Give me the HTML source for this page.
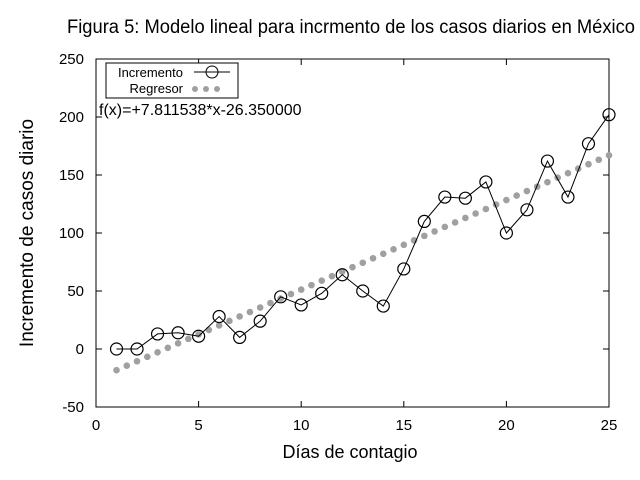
<!DOCTYPE html>
<html><head><meta charset="utf-8"><style>
html,body{margin:0;padding:0;background:#fff;}
svg{display:block;font-family:"Liberation Sans",Arial,sans-serif;}
</style></head><body>
<svg id="s" width="640" height="480" xmlns="http://www.w3.org/2000/svg">
<text x="351" y="33" font-size="19" text-anchor="middle" textLength="568" lengthAdjust="spacingAndGlyphs">Figura 5: Modelo lineal para incrmento de los casos diarios en México</text>
<rect x="96" y="59" width="513" height="348" fill="none" stroke="#000" stroke-width="1"/>
<g id="ticks" stroke="#000" stroke-width="1"></g>
<g id="labels" font-size="15"></g>
<text x="350" y="458" font-size="18" text-anchor="middle">Días de contagio</text>
<text transform="translate(33,233) rotate(-90)" font-size="19" text-anchor="middle">Incremento de casos diario</text>
<g id="reg" fill="#a0a0a0"></g>
<g id="inc"></g>
<rect x="106" y="63" width="132" height="35" fill="#fff" stroke="#000"/>
<text x="183" y="77" font-size="13" text-anchor="end">Incremento</text>
<line x1="194" y1="72" x2="230" y2="72" stroke="#000"/>
<circle cx="212" cy="72" r="6" fill="none" stroke="#000"/>
<text x="183" y="93" font-size="13" text-anchor="end">Regresor</text>
<g fill="#a0a0a0"><circle cx="195" cy="89" r="3"/><circle cx="206" cy="89" r="3"/><circle cx="217" cy="89" r="3"/></g>
<text x="99" y="115" font-size="16">f(x)=+7.811538*x-26.350000</text>
</svg>
<script>
var NS="http://www.w3.org/2000/svg";
function X(v){return 96+v*513/25;}
function Y(v){return 349-v*1.16;}
function el(p,t,a,txt){var e=document.createElementNS(NS,t);for(var k in a)e.setAttribute(k,a[k]);if(txt!=null)e.textContent=txt;document.getElementById(p).appendChild(e);return e;}
for(var v=-50;v<=250;v+=50){var y=Y(v);
 if(v>-50&&v<250){el("ticks","line",{x1:96,y1:y,x2:102,y2:y});el("ticks","line",{x1:609,y1:y,x2:603,y2:y});}
 el("labels","text",{x:84,y:y+5,"text-anchor":"end"},v);}
for(var v=0;v<=25;v+=5){var x=X(v);
 if(v>0&&v<25){el("ticks","line",{x1:x,y1:407,x2:x,y2:401});el("ticks","line",{x1:x,y1:59,x2:x,y2:65});}
 el("labels","text",{x:x,y:430,"text-anchor":"middle"},v);}
for(var v=1;v<=25.01;v+=0.5){el("reg","circle",{cx:X(v),cy:Y(7.72*v-26.0),r:3.3});}
var d=[0,0,13,14,11,28,10,24,45,38,48,64,50,37,69,110,131,130,144,100,120,162,131,177,202];
var pts=d.map(function(v,i){return X(i+1)+","+Y(v);}).join(" ");
el("inc","polyline",{points:pts,fill:"none",stroke:"#000","stroke-width":1});
d.forEach(function(v,i){el("inc","circle",{cx:X(i+1),cy:Y(v),r:6,fill:"none",stroke:"#000","stroke-width":1.2});});
</script>
</body></html>
